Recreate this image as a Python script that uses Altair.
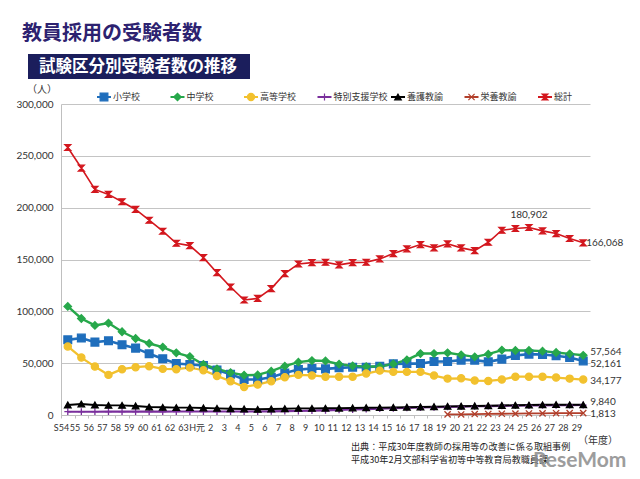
import altair as alt
import pandas as pd

# ---------------- data ----------------
years = ["S54", "55", "56", "57", "58", "59", "60", "61", "62", "63", "H元",
         "2", "3", "4", "5", "6", "7", "8", "9", "10", "11", "12", "13", "14",
         "15", "16", "17", "18", "19", "20", "21", "22", "23", "24", "25", "26",
         "27", "28", "29"]

series = ["小学校", "中学校", "高等学校", "特別支援学校", "養護教諭", "栄養教諭", "総計"]

elementary = [72500, 74200, 70300, 71600, 67700, 64500, 59000, 54200, 49600, 48700,
              47700, 43500, 39400, 34200, 34200, 36500, 40600, 43800, 44800, 44500,
              45500, 46100, 46100, 47100, 49300, 49600, 49600, 51600, 51600, 52900,
              52900, 51300, 53900, 57400, 58700, 58400, 57100, 55400, 52161]
junior = [104700, 93100, 86400, 88700, 80300, 73800, 69000, 65500, 60000, 56400,
          48700, 44500, 40900, 38400, 38700, 42300, 47100, 51000, 52500, 52200,
          49000, 47400, 46700, 46700, 49300, 53200, 59300, 59300, 60000, 58000,
          56100, 58700, 62600, 62200, 62200, 61600, 60300, 59000, 57564]
high = [66100, 55400, 46700, 38700, 44200, 46100, 47100, 44500, 44200, 45700,
        43200, 37700, 32600, 27100, 29300, 32600, 36500, 38700, 38200, 37000,
        37000, 37000, 40000, 42800, 41600, 41600, 41600, 38000, 35100, 35400,
        33200, 32900, 34200, 37000, 37000, 37000, 36100, 35100, 34177]
special = [3200, 3200, 3200, 3300, 3300, 3300, 3300, 3300, 3400, 3400,
           3400, 3400, 3400, 3400, 3400, 3500, 3700, 3900, 4200, 4500,
           4900, 5300, 5700, 6100, 6500, 6900, 7200, 7500, 7800, 8100,
           8400, 8600, 8800, 9000, 9200, 9300, 9400, 9500, 9600]
nurse = [9700, 10600, 9700, 9300, 9300, 8700, 7700, 7400, 7100, 7100,
         6800, 6400, 6100, 5800, 5500, 5800, 6100, 6400, 6400, 6500,
         6600, 6800, 7000, 7100, 7300, 7500, 7800, 8000, 8300, 8500,
         8700, 8900, 9200, 9400, 9600, 9800, 10000, 9800, 9840]
nutrition_years = ["19", "20", "21", "22", "23", "24", "25", "26", "27", "28", "29"]
nutrition = [600, 500, 900, 1000, 1200, 1300, 1500, 1600, 1700, 1800, 1813]
total = [258000, 238200, 217600, 212800, 205700, 198300, 187900, 177300, 165700, 163400,
         151800, 137300, 123500, 110900, 112500, 121900, 136400, 145700, 147000, 147300,
         144800, 147000, 147300, 150600, 155700, 160200, 164400, 161200, 165100, 161200,
         158600, 166600, 178200, 179900, 180902, 177600, 175000, 170200, 166068]
y_ticks = [0, 50000, 100000, 150000, 200000, 250000, 300000]

# ---------------- styles ----------------
colors = ["#1f6ebc", "#27a84b", "#f2c12e", "#7a2f9c", "#000000", "#b23f2b", "#d3171e"]
shapes = ["square", "diamond", "circle", "M-1,0L1,0M0,-1L0,1", "triangle-up",
          "M-1,-1L1,1M-1,1L1,-1", "M-1,-1L1,-1L-1,1L1,1Z"]
sizes = [60, 34, 42, 34, 42, 28, 34]
leg_sizes = [40, 24, 28, 24, 30, 20, 24]
widths = [2.6, 1.6, 1.6, 1.6, 1.6, 1.6, 1.6]

rows = []
for name, vals in [("小学校", elementary), ("中学校", junior), ("高等学校", high),
                   ("特別支援学校", special), ("養護教諭", nurse), ("総計", total)]:
    for i, (y, v) in enumerate(zip(years, vals)):
        rows.append({"series": name, "year": y, "idx": i, "value": v})
for y, v in zip(nutrition_years, nutrition):
    rows.append({"series": "栄養教諭", "year": y, "idx": years.index(y), "value": v})
df = pd.DataFrame(rows)

JP = "Noto Sans CJK JP"
NUM = "Lato, Noto Sans CJK JP"

color_scale = alt.Scale(domain=series, range=colors)
x_scale = alt.Scale(type="point", domain=years, padding=0.5)
y_scale = alt.Scale(domain=[0, 300000], nice=False)

X_ENC = alt.X("year:N", sort=years, scale=x_scale,
              axis=alt.Axis(title=None, labelAngle=0, labelFont=NUM, labelFontSize=9,
                            labelColor="#333333", labelPadding=5, domainColor="#bfbfbf",
                            tickColor="#bfbfbf", tickSize=3, tickOffset=-6.78, grid=False,
                            labelOverlap=False))
Y_ENC = alt.Y("value:Q", scale=y_scale,
              axis=alt.Axis(title=None, values=y_ticks,
                            labelExpr="format(datum.value, ',')",
                            labelFont=NUM, labelFontSize=10, labelColor="#333333",
                            labelPadding=8, ticks=False, domainColor="#bfbfbf",
                            gridColor="#c4c4c4", gridWidth=1))

base = alt.Chart(df)

lines = base.mark_line().encode(
    x=X_ENC, y=Y_ENC,
    color=alt.Color("series:N", scale=color_scale, legend=None),
    strokeWidth=alt.StrokeWidth("series:O", scale=alt.Scale(domain=series, range=widths), legend=None),
    detail="series:N",
    order="idx:Q",
)

points = base.mark_point(filled=True, opacity=1, strokeWidth=1.3).encode(
    x=X_ENC, y=Y_ENC,
    color=alt.Color("series:N", scale=color_scale, legend=None),
    stroke=alt.Stroke("series:N", scale=color_scale, legend=None),
    shape=alt.Shape("series:N", scale=alt.Scale(domain=series, range=shapes), legend=None),
    size=alt.Size("series:O", scale=alt.Scale(domain=series, range=sizes), legend=None),
)

label_specs = [
    ("総計", "25", 0, -7, "center", "bottom"),
    ("総計", "29", 3, 0, "left", "middle"),
    ("中学校", "29", 7, -3, "left", "middle"),
    ("小学校", "29", 7, 3, "left", "middle"),
    ("高等学校", "29", 7, 1, "left", "middle"),
    ("養護教諭", "29", 7, -3, "left", "middle"),
    ("栄養教諭", "29", 7, 1, "left", "middle"),
]
labels = []
for s, yr, dx, dy, al, bl in label_specs:
    labels.append(
        base.transform_filter((alt.datum.series == s) & (alt.datum.year == yr))
        .mark_text(align=al, baseline=bl, dx=dx, dy=dy, font=NUM, fontSize=10, color="#333333")
        .encode(x=X_ENC, y=Y_ENC, text=alt.Text("value:Q", format=","))
    )

main = alt.layer(lines, points, *labels)

# ---------------- legend (custom, line + marker) ----------------
leg = alt.Chart(pd.DataFrame({"series": series}))
legx = alt.X("series:N", sort=series,
             scale=alt.Scale(type="point", domain=series, range=[43, 484], padding=0), axis=None)
leg_line = leg.mark_point(shape="M-1,0L1,0", size=196, filled=False, strokeWidth=2, opacity=1).encode(
    x=legx, y=alt.value(-7), color=alt.Color("series:N", scale=color_scale, legend=None))
leg_pt = leg.mark_point(filled=True, opacity=1, strokeWidth=1.2).encode(
    x=legx, y=alt.value(-7),
    color=alt.Color("series:N", scale=color_scale, legend=None),
    stroke=alt.Stroke("series:N", scale=color_scale, legend=None),
    shape=alt.Shape("series:N", scale=alt.Scale(domain=series, range=shapes), legend=None),
    size=alt.Size("series:O", scale=alt.Scale(domain=series, range=leg_sizes), legend=None))
leg_txt = leg.mark_text(align="left", baseline="middle", dx=9, font=JP, fontSize=9,
                        color="#333333").encode(x=legx, y=alt.value(-7), text="series:N")
legend = alt.layer(leg_line, leg_pt, leg_txt)

# ---------------- annotations ----------------
one = alt.Chart(pd.DataFrame({"a": [0]}))


def note(text, x, y, size=10, color="#333333", weight="normal", align="left", font=JP, opacity=1):
    return one.mark_text(align=align, baseline="middle", font=font, fontSize=size, color=color,
                         fontWeight=weight, opacity=opacity).encode(
        x=alt.value(x), y=alt.value(y), text=alt.value(text))


title = note("教員採用の受験者数", -39, -70, size=20, color="#2d2270", weight="bold")
box = one.mark_rect(color="#1b1e5c").encode(
    x=alt.value(-33), x2=alt.value(189), y=alt.value(-50), y2=alt.value(-25))
subtitle = note("試験区分別受験者数の推移", -22, -37, size=16.5, color="#ffffff", weight="bold")
unit = note("（人）", -19, -14, size=10, align="center")
nendo = note("（年度）", 537, 337, size=10, align="center")
src1 = note("出典：平成30年度教師の採用等の改善に係る取組事例", 290, 343, size=9.1, color="#222222")
src2 = note("平成30年2月文部科学省初等中等教育局教職員課", 290, 356, size=9.1, color="#222222")
logo = note("ReseMom", 472, 357, size=21, color="#8c8c8c", weight="bold", font="Lato", opacity=0.85)

chart = alt.layer(main, legend, title, box, subtitle, unit, nendo, src1, src2, logo).resolve_scale(
    x="independent"
).properties(
    width=529, height=311,
    autosize=alt.AutoSizeParams(type="none"),
    padding={"left": 53, "top": 96, "right": 42, "bottom": 56},
    background="#ffffff",
).configure_view(strokeWidth=0)

chart.save("out.html", embed_options={"renderer": "svg", "actions": False})
